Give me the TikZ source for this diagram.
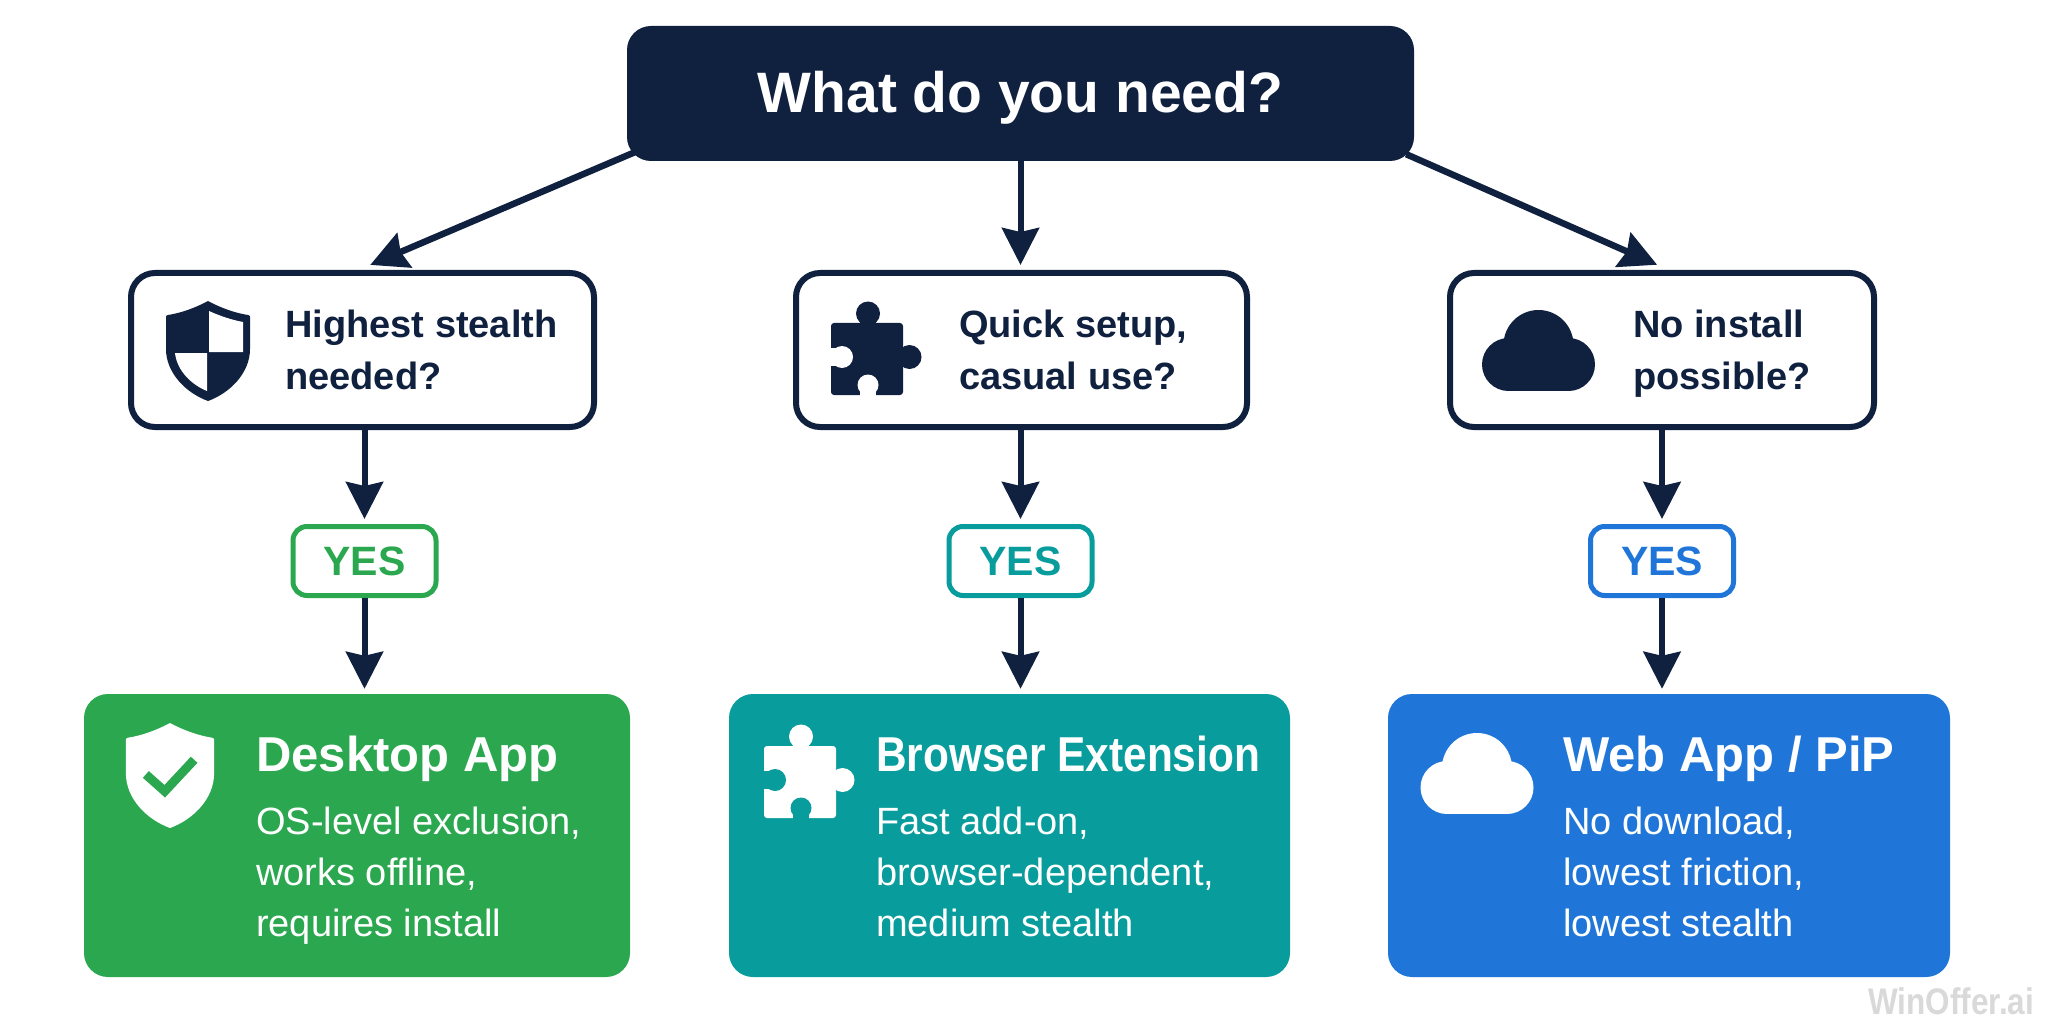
\documentclass[tikz,border=0pt]{standalone}
\usepackage{graphicx}
\usepackage{fontspec}
\setmainfont{Liberation Sans}
\usetikzlibrary{arrows.meta}
\definecolor{navy}{HTML}{10203F}
\definecolor{cgreen}{HTML}{2BA84F}
\definecolor{cteal}{HTML}{089C9C}
\definecolor{cblue}{HTML}{1F76D8}
\definecolor{wm}{HTML}{D9D9D9}
\newcommand{\shieldpath}{(0,0) .. controls (13,7) and (27,12) .. (40,14) .. controls (41.5,14.2) and (42,15) .. (42,16) -- (42,48) .. controls (42,72) and (22,92) .. (0,100) .. controls (-22,92) and (-42,72) .. (-42,48) -- (-42,16) .. controls (-42,15) and (-41.5,14.2) .. (-40,14) .. controls (-27,12) and (-13,7) .. (0,0) -- cycle}
\newcommand{\quartshield}[2]{\begin{scope}[shift={(#1,#2)}]
\fill[navy] \shieldpath;
\fill[white] (1,10) .. controls (12,15) and (24,19) .. (35,21) -- (35,51) -- (1,51) -- cycle;
\fill[white] (-33,52) -- (-1,52) -- (-1,90) .. controls (-16,84) and (-31,70) .. (-33,52) -- cycle;
\end{scope}}
\newcommand{\checkshield}[2]{\begin{scope}[shift={(#1,#2)},scale=1.05]
\fill[white] \shieldpath;
\draw[cgreen,line width=9pt,line join=miter] (-23,49) -- (-5,65) -- (23,35);
\end{scope}}
\newcommand{\puzzleicon}[4]{\begin{scope}[shift={(#1,#2)}]
\fill[#3,rounded corners=3] (0,0) rectangle (72,72);
\fill[#3] (37,-9.5) circle (12);
\fill[#3] (29,-4) rectangle (45,2);
\fill[#3] (78.5,34) circle (12);
\fill[#3] (70,26) rectangle (76,42);
\fill[#4] (11,34) circle (11);
\fill[#4] (-1,25) rectangle (6,43);
\fill[#4] (37,62) circle (10.5);
\fill[#4] (29,66) rectangle (45,73);
\end{scope}}
\newcommand{\cloudicon}[3]{\begin{scope}[shift={(#1,#2)}]
\fill[#3] (0,0) circle (35);
\fill[#3] (-30,19.5) circle (26.5);
\fill[#3] (30,19.5) circle (26.5);
\fill[#3] (-30,0) rectangle (30,46);
\end{scope}}
\newcommand{\lineph}{\vphantom{Hp}}
\tikzset{
  flow/.style={draw=navy,line width=6pt,shorten >=5pt,-{Stealth[length=37pt,width=37pt,inset=4pt]}},
  slant/.style={flow,line width=6.5pt,shorten >=13pt},
  topbox/.style={fill=navy,rounded corners=24pt,inner sep=0pt,minimum width=787pt,minimum height=135pt,text=white,text height=51pt,text depth=12pt,font=\fontsize{57}{62}\selectfont\bfseries},
  qbox/.style={draw=navy,fill=white,line width=6pt,rounded corners=24pt,inner sep=0pt,minimum height=154pt},
  yesbox/.style={draw=#1,fill=white,line width=5pt,rounded corners=14pt,inner sep=0pt,minimum width=143pt,minimum height=69pt,text=#1,font=\fontsize{41}{44}\selectfont\bfseries},
  resbox/.style={fill=#1,rounded corners=24pt,inner sep=0pt,minimum height=283pt},
  qtext/.style={anchor=west,align=left,inner sep=0pt,text=navy,font=\fontsize{38}{52}\selectfont\bfseries},
  rhead/.style={anchor=base west,inner sep=0pt,text=white,font=\fontsize{49}{52}\selectfont\bfseries},
  rbody/.style={anchor=west,align=left,inner sep=0pt,text=white,font=\fontsize{38}{51}\selectfont}
}
\begin{document}
\begin{tikzpicture}[x=1pt,y=-1pt]
\useasboundingbox (0,0) rectangle (2048,1024);
\fill[white] (0,0) rectangle (2048,1024);
% nodes
\node[topbox] (top) at (1020.5,93.5) {What do you need?};
\node[qbox,minimum width=463pt] (q1) at (362.5,350) {};
\node[qbox,minimum width=451pt] (q2) at (1021.5,350) {};
\node[qbox,minimum width=424pt] (q3) at (1662,350) {};
\node[yesbox=cgreen] (y1) at (364.5,561) {YES};
\node[yesbox=cteal] (y2) at (1020.5,561) {YES};
\node[yesbox=cblue] (y3) at (1662,561) {YES};
\node[resbox=cgreen,minimum width=546pt] (r1) at (357,835.5) {};
\node[resbox=cteal,minimum width=561pt] (r2) at (1009.5,835.5) {};
\node[resbox=cblue,minimum width=562pt] (r3) at (1669,835.5) {};
% connectors
\draw[slant] ([shift={(8,-9)}]top.south west) -- (q1.93);
\draw[slant] ([shift={(-8,-7)}]top.south east) -- (q3.85);
\draw[flow] (top.south) -- (top.south |- q2.north);
\draw[flow] (y1.north |- q1.south) -- (y1.north);
\draw[flow] (y2.north |- q2.south) -- (y2.north);
\draw[flow] (y3.north |- q3.south) -- (y3.north);
\draw[flow] (y1.south) -- (y1.south |- r1.north);
\draw[flow] (y2.south) -- (y2.south |- r2.north);
\draw[flow] (y3.south) -- (y3.south |- r3.north);
% question text
\node[qtext] (q1t) at (285,354) {Highest stealth\lineph\\needed?\lineph};
\node[qtext] (q2t) at (959,354) {Quick setup,\lineph\\casual use?\lineph};
\node[qtext] (q3t) at (1633,354) {No install\lineph\\possible?\lineph};
% result text
\node[rhead] (r1h) at (256,771) {Desktop App};
\node[rhead] (r2h) at (876,771) {\scalebox{0.865}[1]{Browser Extension}};
\node[rhead] (r3h) at (1563,771) {Web App / PiP};
\node[rbody] (r1b) at (256,875.5) {OS-level exclusion,\lineph\\works offline,\\requires install\lineph};
\node[rbody] (r2b) at (876,875.5) {Fast add-on,\lineph\\browser-dependent,\\medium stealth\lineph};
\node[rbody] (r3b) at (1563,875.5) {No download,\lineph\\lowest friction,\\lowest stealth\lineph};
% icons
\quartshield{208}{301}
\puzzleicon{831}{323}{navy}{white}
\cloudicon{1538.5}{345}{navy}
\checkshield{170}{723}
\puzzleicon{764}{746}{white}{cteal}
\cloudicon{1477}{768}{white}
% watermark
\node[anchor=base west,inner sep=0pt,text=wm,font=\fontsize{37}{40}\selectfont\bfseries] (wmk) at (1868,1014) {\scalebox{0.85}[1]{WinOffer.ai}};
\end{tikzpicture}
\end{document}
